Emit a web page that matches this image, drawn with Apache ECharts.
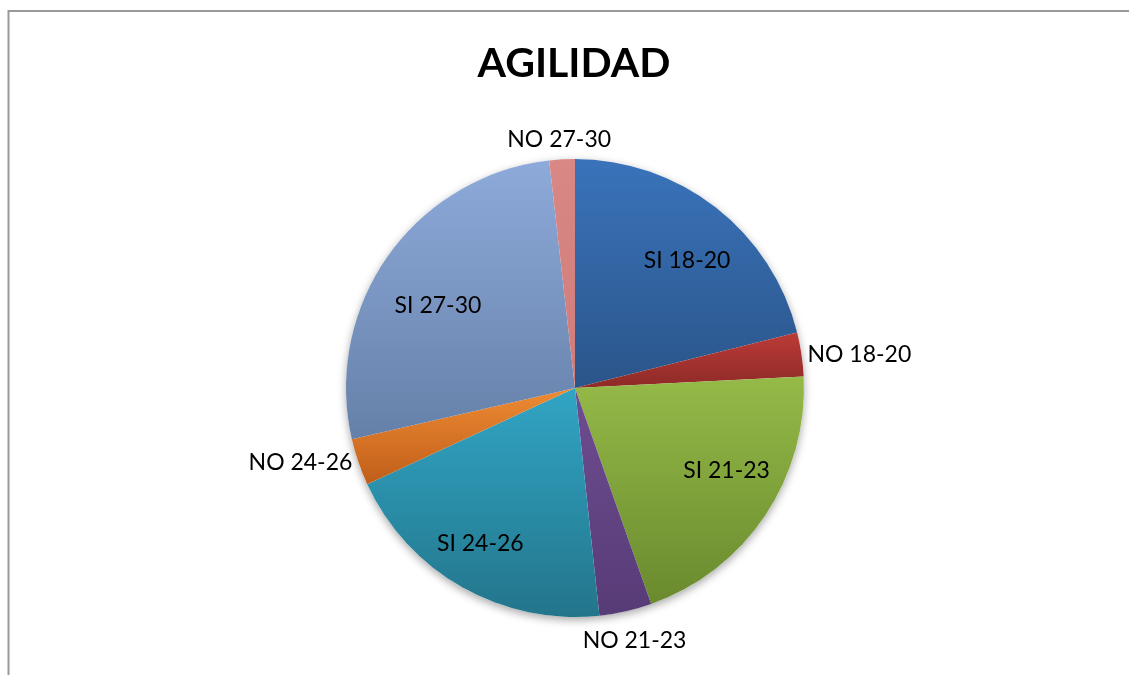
<!DOCTYPE html>
<html>
<head>
<meta charset="utf-8">
<title>AGILIDAD</title>
<script src="https://cdn.jsdelivr.net/npm/echarts@6/dist/echarts.min.js"></script>
<style>
  html, body { margin: 0; padding: 0; background: #fff; }
  #chart { width: 1129px; height: 675px; }
</style>
</head>
<body>
<div id="chart"></div>
<script>
// slice names, clockwise from 12 o'clock
const categories = ['SI 18-20', 'NO 18-20', 'SI 21-23', 'NO 21-23', 'SI 24-26', 'NO 24-26', 'SI 27-30', 'NO 27-30']
// percent shares
const values = [21.1, 3.1, 20.4, 3.7, 19.8, 3.3, 26.8, 1.8]
// gradient top / bottom colours (Excel 2007 look)
const topColors = ['#3a73bb', '#bb3b37', '#95ba48', '#6e4d91', '#31a5c4', '#ee8b33', '#8eaada', '#d98886']
const bottomColors = ['#2a5589', '#8e2a27', '#6a8a2e', '#573b76', '#23758b', '#c05e1a', '#6580a8', '#cf7b79']

const center = [575, 388]
const R = 229

const chart = echarts.init(document.getElementById('chart'))

const grad = (i) => new echarts.graphic.LinearGradient(0, 0, 0, 1, [
  { offset: 0, color: topColors[i] },
  { offset: 1, color: bottomColors[i] }
])

const isInside = (name) => name.startsWith('SI')

// small per-label nudges so text sits where Excel put it
const labelOffsets = {
  'NO 27-30': [55, -20],
  'NO 21-23': [-49, 29],
  'SI 18-20': [5, 10],
  'SI 21-23': [7, -14],
  'SI 24-26': [-9, 4],
  'SI 27-30': [5, 18]
}

const mainData = categories.map((name, i) => ({
  name,
  value: values[i],
  itemStyle: { color: grad(i) },
  label: {
    show: !isInside(name),
    offset: labelOffsets[name] || [0, 0]
  }
}))

const labelData = categories.map((name, i) => ({
  name,
  value: values[i],
  label: {
    show: isInside(name),
    offset: labelOffsets[name] || [0, 0]
  }
}))

const option = {
  animation: false,
  backgroundColor: '#ffffff',
  title: {
    text: 'AGILIDAD',
    left: 569,
    top: 38,
    textAlign: 'center',
    textStyle: { fontFamily: 'Lato', fontWeight: 'bold', fontSize: 41, color: '#000' }
  },
  graphic: [{
    type: 'rect',
    shape: { x: 8.5, y: 11, width: 1300, height: 900 },
    style: { fill: null, stroke: '#999', lineWidth: 2 },
    silent: true
  }],
  series: [
    {
      // soft shadow behind the whole pie
      type: 'pie',
      silent: true,
      center,
      radius: R,
      z: 1,
      label: { show: false },
      labelLine: { show: false },
      itemStyle: { color: '#fff', shadowBlur: 8, shadowOffsetY: 3, shadowColor: 'rgba(0,0,0,0.35)' },
      data: [{ value: 1, name: 'bg' }]
    },
    {
      type: 'pie',
      center,
      radius: R,
      startAngle: 90,
      clockwise: true,
      z: 2,
      avoidLabelOverlap: false,
      itemStyle: { borderWidth: 0 },
      label: {
        position: 'outside',
        fontFamily: 'Lato',
        fontSize: 23,
        color: '#000',
        distanceToLabelLine: 6
      },
      labelLine: { show: false, length: 0, length2: 0 },
      emphasis: { disabled: true },
      data: mainData
    },
    {
      // transparent ring only used to place the inside labels
      type: 'pie',
      silent: true,
      center,
      radius: [113, R],
      startAngle: 90,
      clockwise: true,
      z: 3,
      itemStyle: { color: 'rgba(0,0,0,0)' },
      label: {
        position: 'inside',
        fontFamily: 'Lato',
        fontSize: 23,
        color: '#000'
      },
      labelLine: { show: false },
      data: labelData
    }
  ]
}

chart.setOption(option)
</script>
</body>
</html>
